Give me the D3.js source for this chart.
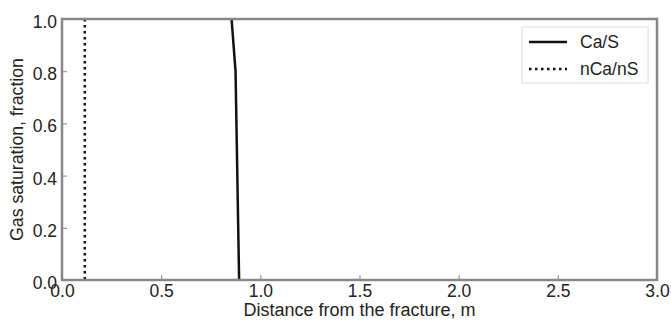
<!DOCTYPE html>
<html><head><meta charset="utf-8">
<script src="https://cdn.jsdelivr.net/npm/d3@7/dist/d3.min.js"></script>
<style>body{margin:0;background:#fff}svg{display:block}text{font-family:"Liberation Sans",Arial,sans-serif;fill:#222}</style>
</head><body><svg id="c" width="671" height="320"></svg>
<script>
const xTicks = [0, 0.5, 1.0, 1.5, 2.0, 2.5, 3.0];
const yTicks = [0, 0.2, 0.4, 0.6, 0.8, 1.0];
const caS_x = [0.855, 0.875, 0.893];
const caS_y = [1.0, 0.8, 0.0];
const nCa_x = [0.115, 0.115];
const nCa_y = [1.0, 0.0];
const seriesNames = ["Ca/S", "nCa/nS"];

const svg = d3.select("#c");
const m = {l: 62, r: 657, t: 19, b: 280};
const x = d3.scaleLinear().domain([0, 3]).range([m.l, m.r]);
const y = d3.scaleLinear().domain([0, 1]).range([m.b, m.t]);

const line = d3.line().x(d => x(d[0])).y(d => y(d[1]));
const caS = caS_x.map((v, i) => [v, caS_y[i]]);
const nCa = nCa_x.map((v, i) => [v, nCa_y[i]]);

svg.append("path").datum(nCa).attr("d", line).attr("fill", "none")
  .attr("stroke", "#111").attr("stroke-width", 2.5).attr("stroke-dasharray", "2.5,3.5");
svg.append("path").datum(caS).attr("d", line).attr("fill", "none")
  .attr("stroke", "#111").attr("stroke-width", 2.5);

// axes with inward ticks
const xAxis = d3.axisBottom(x).tickValues(xTicks).tickFormat(d3.format(".1f")).tickSizeInner(-5).tickSizeOuter(0).tickPadding(5);
const gx = svg.append("g").attr("transform", `translate(0,${m.b})`).call(xAxis);
gx.select(".domain").remove();
gx.selectAll("line").attr("stroke", "#888");
gx.selectAll("text").attr("font-size", 17.5).attr("fill", "#222");

const yAxis = d3.axisLeft(y).tickValues(yTicks).tickFormat(d3.format(".1f")).tickSizeInner(-5).tickSizeOuter(0).tickPadding(5);
const gy = svg.append("g").attr("transform", `translate(${m.l},0)`).call(yAxis);
gy.select(".domain").remove();
gy.selectAll("line").attr("stroke", "#888");
gy.selectAll("text").attr("font-size", 17.5).attr("fill", "#222").attr("dy", "0.48em");

// frame
svg.append("rect").attr("x", m.l).attr("y", m.t).attr("width", m.r - m.l).attr("height", m.b - m.t)
  .attr("fill", "none").attr("stroke", "#888").attr("stroke-width", 2.5);

// labels
svg.append("text").attr("x", (m.l + m.r) / 2).attr("y", 316).attr("text-anchor", "middle")
  .attr("font-size", 18).text("Distance from the fracture, m");
svg.append("text").attr("transform", `translate(23,${(m.t + m.b) / 2}) rotate(-90)`)
  .attr("text-anchor", "middle").attr("font-size", 17.7).text("Gas saturation, fraction");

// legend
const lg = svg.append("g");
lg.append("rect").attr("x", 522).attr("y", 27).attr("width", 126).attr("height", 56)
  .attr("fill", "#fff").attr("stroke", "#ddd").attr("stroke-width", 1);
seriesNames.forEach((n, i) => {
  const yy = 42 + i * 27;
  lg.append("line").attr("x1", 529).attr("x2", 567).attr("y1", yy).attr("y2", yy)
    .attr("stroke", "#111").attr("stroke-width", 2.5)
    .attr("stroke-dasharray", i === 1 ? "2.5,3.5" : null);
  lg.append("text").attr("x", 580).attr("y", yy).attr("dy", "0.35em").attr("font-size", 17.5).text(n);
});
</script></body></html>
